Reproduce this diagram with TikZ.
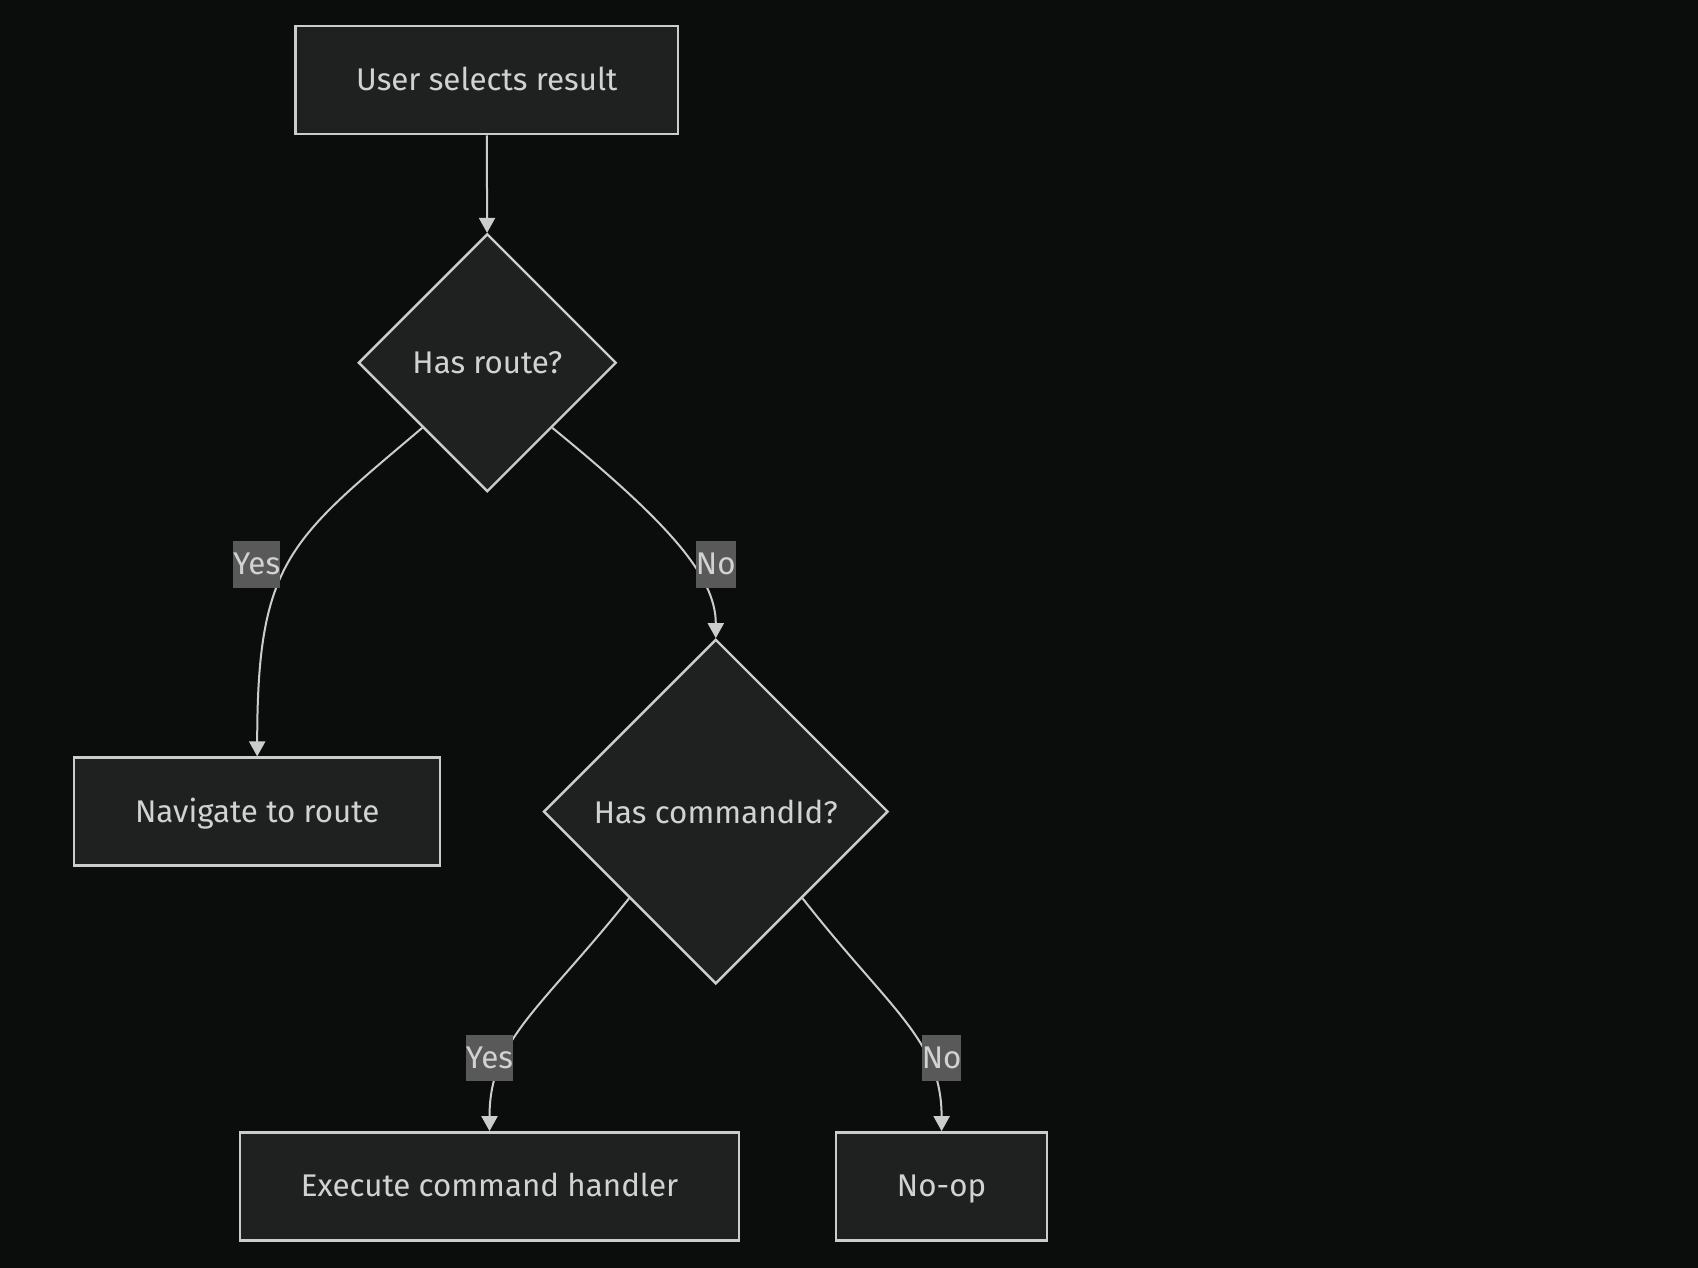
\documentclass[tikz,border=0pt]{standalone}
\usepackage{fontspec}
\setmainfont{Fira Sans}
\usetikzlibrary{shapes.geometric,arrows.meta}
\definecolor{bgc}{HTML}{0B0D0D}
\definecolor{nodefill}{HTML}{1F2020}
\definecolor{edgec}{HTML}{CCCCCC}
\definecolor{txtc}{HTML}{D2D2D2}
\definecolor{lblfill}{HTML}{595959}
\tikzset{
    proc/.style={draw=edgec, fill=nodefill, line width=0.9pt, minimum height=40.5pt,
        inner xsep=22.8pt, text height=10pt, text depth=2pt, text=txtc,
        font=\fontsize{11.75}{14}\selectfont},
    decide/.style={diamond, aspect=1, draw=edgec, fill=nodefill, line width=0.9pt,
        inner sep=0pt, text=txtc, font=\fontsize{11.75}{14}\selectfont},
    flow/.style={draw=edgec, line width=0.75pt, -{Triangle[width=6pt,length=5.6pt]}},
    tag/.style={fill=lblfill, text=txtc, inner xsep=0pt, inner ysep=0pt,
        text height=10pt, text depth=2pt, minimum height=17.5pt,
        font=\fontsize{11.75}{14}\selectfont}
}
\begin{document}
\begin{tikzpicture}[x=0.375pt, y=-0.375pt]
    \useasboundingbox (0, 0) rectangle (1698, 1268);
    \fill[bgc] (0, 0) rectangle (1698, 1268);

    \node[proc] (select) at (486.8, 80.1) {User selects result};
    \node[decide, minimum size=96.7pt] (route) at (487.3, 362.8) {Has route?};
        \node[proc] (navigate) at (257.2, 811.6) {Navigate to route};
        \node[decide, minimum size=129.2pt] (command) at (715.8, 811.6) {Has commandId?};
            \node[proc] (execute) at (489.5, 1186.3) {Execute command handler};
            \node[proc] (noop) at (941.6, 1186.3) {No-op};

    \draw[flow] (select) -- (route);
    \draw[flow] (route.south west) .. controls (290, 540) and (257.2, 560) .. (navigate.north);
    \draw[flow] (route.south east) .. controls (665, 520) and (715.8, 575) .. (command.north);
    \draw[flow] (command.south west) .. controls (540, 1010) and (489.5, 1040) .. (execute.north);
    \draw[flow] (command.south east) .. controls (890, 1010) and (941.6, 1040) .. (noop.north);

    \node[tag] (yesroute) at (256.6, 564.2) {Yes};
    \node[tag] (noroute) at (715.8, 564.2) {No};
    \node[tag] (yescmd) at (489.5, 1058) {Yes};
    \node[tag] (nocmd) at (941.6, 1058) {No};
\end{tikzpicture}
\end{document}
